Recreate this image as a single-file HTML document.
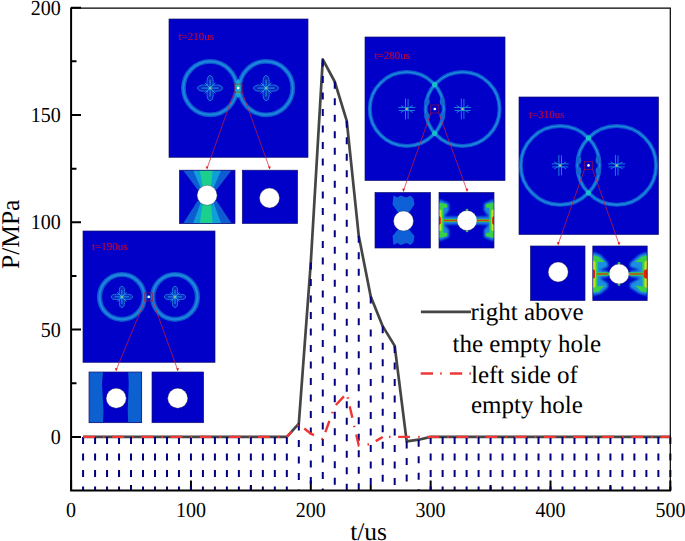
<!DOCTYPE html><html><head><meta charset="utf-8"><style>
html,body{margin:0;padding:0;background:#fff;width:685px;height:541px;overflow:hidden}
svg{display:block}
text{font-family:"Liberation Serif",serif;fill:#000;text-rendering:geometricPrecision}
</style></head><body>
<svg width="685" height="541" viewBox="0 0 685 541">
<defs><filter id="bl" x="-20%" y="-20%" width="140%" height="140%"><feGaussianBlur stdDeviation="0.75"/></filter><filter id="bl2" x="-20%" y="-20%" width="140%" height="140%"><feGaussianBlur stdDeviation="1.2"/></filter></defs>
<rect x="169" y="19" width="139" height="138.3" fill="#0000c8" stroke="#141470" stroke-width="0.7"/>
<g>
<circle cx="210.1" cy="88.1" r="26.7" fill="none" stroke="#0c58d0" stroke-width="4.8" filter="url(#bl)"/><circle cx="210.1" cy="88.1" r="26.7" fill="none" stroke="#1a86dc" stroke-width="2.1" filter="url(#bl)"/>
<circle cx="266.1" cy="88.1" r="26.7" fill="none" stroke="#0c58d0" stroke-width="4.8" filter="url(#bl)"/><circle cx="266.1" cy="88.1" r="26.7" fill="none" stroke="#1a86dc" stroke-width="2.1" filter="url(#bl)"/>
<g filter="url(#bl)"><ellipse cx="238.2" cy="88.5" rx="2.6" ry="9.5" fill="#16a6d6"/><ellipse cx="238.2" cy="85.3" rx="1.8" ry="1.4" fill="#22c890"/><ellipse cx="238.2" cy="92.3" rx="1.8" ry="1.6" fill="#22c890"/></g>
<g fill="#0828c8" stroke="#1a78d8" stroke-width="1" filter="url(#bl)"><ellipse cx="210.1" cy="81.49175" rx="3.1239000000000003" ry="6.0075"/><ellipse cx="210.1" cy="94.70824999999999" rx="3.1239000000000003" ry="6.0075"/><ellipse cx="203.49175" cy="88.1" rx="6.0075" ry="3.1239000000000003"/><ellipse cx="216.70825" cy="88.1" rx="6.0075" ry="3.1239000000000003"/></g><g stroke="#1e98e0" stroke-width="1" fill="none" filter="url(#bl)"><path d="M201.6895,88.1H218.51049999999998M210.1,79.6895V96.5105M204.69325,82.69324999999999L215.50674999999998,93.50675M204.69325,93.50675L215.50674999999998,82.69324999999999"/></g><circle cx="210.1" cy="88.1" r="1.5" fill="#20c0c0" filter="url(#bl)"/><circle cx="210.1" cy="88.1" r="0.9" fill="#c0b080"/>
<g fill="#0828c8" stroke="#1a78d8" stroke-width="1" filter="url(#bl)"><ellipse cx="266.1" cy="81.49175" rx="3.1239000000000003" ry="6.0075"/><ellipse cx="266.1" cy="94.70824999999999" rx="3.1239000000000003" ry="6.0075"/><ellipse cx="259.49175" cy="88.1" rx="6.0075" ry="3.1239000000000003"/><ellipse cx="272.70825" cy="88.1" rx="6.0075" ry="3.1239000000000003"/></g><g stroke="#1e98e0" stroke-width="1" fill="none" filter="url(#bl)"><path d="M257.6895,88.1H274.51050000000004M266.1,79.6895V96.5105M260.69325000000003,82.69324999999999L271.50675,93.50675M260.69325000000003,93.50675L271.50675,82.69324999999999"/></g><circle cx="266.1" cy="88.1" r="1.5" fill="#20c0c0" filter="url(#bl)"/><circle cx="266.1" cy="88.1" r="0.9" fill="#c0b080"/>
</g>
<text x="178.5" y="40" style="font-size:11px;fill:#c8003a;stroke:#c8003a;stroke-width:0.1" filter="url(#bl)">t=210us</text>
<circle cx="238.2" cy="88.1" r="1.3" fill="#fff" filter="url(#bl)"/>
<rect x="234.2" y="84.1" width="8" height="8" fill="none" stroke="#a01038" stroke-width="0.6"/>
<rect x="179.4" y="170.2" width="55.599999999999994" height="53.400000000000006" fill="#0000c8"/>
<clipPath id="c1"><rect x="179.4" y="170.2" width="55.599999999999994" height="53.400000000000006"/></clipPath>
<g clip-path="url(#c1)"><g filter="url(#bl)"><path d="M183.1,170.2L231.6,170.2L216.6,189.8L197.6,189.8Z" fill="#0a5cd2"/><path d="M183.1,223.6L231.6,223.6L216.6,200.8L197.6,200.8Z" fill="#0a5cd2"/><path d="M193.1,170.2L221.1,170.2L213.6,187.8L200.6,187.8Z" fill="#0fa0d6"/><path d="M193.1,223.6L221.1,223.6L213.6,202.8L200.6,202.8Z" fill="#0fa0d6"/><path d="M199.79999999999998,170.2L212.6,170.2L211.1,186.3L202.6,186.3Z" fill="#1ccf8c"/><path d="M199.79999999999998,223.6L212.6,223.6L211.1,204.3L202.6,204.3Z" fill="#1ccf8c"/></g></g>
<circle cx="207.1" cy="195.3" r="10" fill="#fff" stroke="#333" stroke-width="0.35"/>
<path d="M234.2,92.1L207.1,168.2" stroke="#d81830" stroke-width="0.7" fill="none"/>
<path d="M205.7,166.39999999999998L207.1,169.6L208.5,166.39999999999998Z" fill="#e81818"/>
<rect x="179.4" y="170.2" width="55.599999999999994" height="53.400000000000006" fill="none" stroke="#141470" stroke-width="0.7"/>
<rect x="242.3" y="170.2" width="55.30000000000001" height="53.30000000000001" fill="#0000c8"/>
<clipPath id="c2"><rect x="242.3" y="170.2" width="55.30000000000001" height="53.30000000000001"/></clipPath>
<g clip-path="url(#c2)"></g>
<circle cx="269.5" cy="198" r="10" fill="#fff" stroke="#333" stroke-width="0.35"/>
<path d="M242.2,92.1L269.5,168.2" stroke="#d81830" stroke-width="0.7" fill="none"/>
<path d="M268.1,166.39999999999998L269.5,169.6L270.9,166.39999999999998Z" fill="#e81818"/>
<rect x="242.3" y="170.2" width="55.30000000000001" height="53.30000000000001" fill="none" stroke="#141470" stroke-width="0.7"/>
<rect x="365" y="37" width="140" height="143.5" fill="#0000c8" stroke="#141470" stroke-width="0.7"/>
<g>
<circle cx="406.8" cy="109" r="37" fill="none" stroke="#0c58d0" stroke-width="4.0" filter="url(#bl)"/><circle cx="406.8" cy="109" r="37" fill="none" stroke="#1a86dc" stroke-width="1.7" filter="url(#bl)"/>
<circle cx="462.6" cy="109" r="37" fill="none" stroke="#0c58d0" stroke-width="4.0" filter="url(#bl)"/><circle cx="462.6" cy="109" r="37" fill="none" stroke="#1a86dc" stroke-width="1.7" filter="url(#bl)"/>
<g fill="#18c0c8" filter="url(#bl)"><circle cx="434.70000000000005" cy="84.69794247393855" r="2.6"/><circle cx="434.70000000000005" cy="133.30205752606145" r="2.6"/></g><g fill="#1266d0" filter="url(#bl)"><ellipse cx="427.1" cy="101.5" rx="2.5" ry="4"/><ellipse cx="442.3" cy="101.5" rx="2.5" ry="4"/><ellipse cx="427.1" cy="116.5" rx="2.5" ry="4"/><ellipse cx="442.3" cy="116.5" rx="2.5" ry="4"/></g>
<g stroke="#1a7ed8" stroke-width="1" fill="none" filter="url(#bl)"><path d="M405.5,98.5V119.5M408.1,99V119M398.3,107.5H415.3M398.8,110.5H414.8M406.8,109L400.8,105.5M406.8,109L400.8,112.5M406.8,109L412.8,105.5M406.8,109L412.8,112.5"/></g><circle cx="406.8" cy="109" r="1.5" fill="#20c0c0" filter="url(#bl)"/><circle cx="406.8" cy="109" r="0.9" fill="#c0b080"/>
<g stroke="#1a7ed8" stroke-width="1" fill="none" filter="url(#bl)"><path d="M461.3,98.5V119.5M463.90000000000003,99V119M454.1,107.5H471.1M454.6,110.5H470.6M462.6,109L456.6,105.5M462.6,109L456.6,112.5M462.6,109L468.6,105.5M462.6,109L468.6,112.5"/></g><circle cx="462.6" cy="109" r="1.5" fill="#20c0c0" filter="url(#bl)"/><circle cx="462.6" cy="109" r="0.9" fill="#c0b080"/>
</g>
<text x="374.5" y="58.9" style="font-size:11px;fill:#c8003a;stroke:#c8003a;stroke-width:0.1" filter="url(#bl)">t=280us</text>
<circle cx="434.8" cy="109" r="1.3" fill="#fff" filter="url(#bl)"/>
<rect x="430.8" y="105" width="8" height="8" fill="none" stroke="#a01038" stroke-width="0.6"/>
<rect x="375" y="192.5" width="55.5" height="55.5" fill="#0000c8"/>
<clipPath id="c3"><rect x="375" y="192.5" width="55.5" height="55.5"/></clipPath>
<g clip-path="url(#c3)"><g filter="url(#bl)" fill="#1060d8"><path d="M393.5,195.5L397.5,197.5L400.5,195.5L406.5,197.5L410.5,195.5L413.5,198.5L414.5,204.5L408.5,213L398.5,213L392.5,204.5Z"/><path d="M393.5,245L397.5,243L400.5,245L406.5,243L410.5,245L413.5,242L414.5,236L408.5,229L398.5,229L392.5,236Z"/></g></g>
<circle cx="403.5" cy="221" r="10" fill="#fff" stroke="#333" stroke-width="0.35"/>
<path d="M430.8,113L403.5,190.5" stroke="#d81830" stroke-width="0.7" fill="none"/>
<path d="M402.1,188.7L403.5,191.9L404.9,188.7Z" fill="#e81818"/>
<rect x="375" y="192.5" width="55.5" height="55.5" fill="none" stroke="#141470" stroke-width="0.7"/>
<rect x="439" y="192.5" width="55" height="55.5" fill="#0000c8"/>
<clipPath id="c4"><rect x="439" y="192.5" width="55" height="55.5"/></clipPath>
<g clip-path="url(#c4)"><g filter="url(#bl2)"><path d="M439,199.16L449,203.6L449,210.815L444,216.5L479,217.0L479,224.0L444,224.5L449,229.685L449,236.9L439,241.34Z" fill="#1a88e0"/><path d="M494,199.16L484,203.6L484,210.815L489,216.5L455,217.0L455,224.0L489,224.5L484,229.685L484,236.9L494,241.34Z" fill="#1a88e0"/></g><g filter="url(#bl)"><path d="M439,202.49L447,204.155L447,207.485L443.5,208.04L443.5,232.46L447,233.015L447,236.345L439,238.01Z" fill="#38d048"/><path d="M439,209.15L441.6,210.26L441.6,230.24L439,231.35Z" fill="#c8e020"/><path d="M439,216.0L440.8,217.5L440.8,223.5L439,225.0Z" fill="#e02000"/><path d="M443,220.5L476.5,220.5" stroke="#38d048" stroke-width="3.2"/><path d="M444,220.5L478,220.5" stroke="#d04010" stroke-width="1.3"/><path d="M494,202.49L486,204.155L486,207.485L489.5,208.04L489.5,232.46L486,233.015L486,236.345L494,238.01Z" fill="#38d048"/><path d="M494,209.15L491.4,210.26L491.4,230.24L494,231.35Z" fill="#c8e020"/><path d="M494,216.0L492.2,217.5L492.2,223.5L494,225.0Z" fill="#e02000"/><path d="M490,220.5L457.5,220.5" stroke="#38d048" stroke-width="3.2"/><path d="M489,220.5L456,220.5" stroke="#d04010" stroke-width="1.3"/><circle cx="467" cy="210.0" r="1.3" fill="#30c860"/><circle cx="467" cy="231.0" r="1.3" fill="#30c860"/></g></g>
<circle cx="467" cy="220.5" r="10" fill="#fff" stroke="#333" stroke-width="0.35"/>
<path d="M438.8,113L467,190.5" stroke="#d81830" stroke-width="0.7" fill="none"/>
<path d="M465.6,188.7L467,191.9L468.4,188.7Z" fill="#e81818"/>
<rect x="439" y="192.5" width="55" height="55.5" fill="none" stroke="#141470" stroke-width="0.7"/>
<rect x="519" y="97" width="139.5" height="137.5" fill="#0000c8" stroke="#141470" stroke-width="0.7"/>
<g>
<circle cx="560.2" cy="165.4" r="39.4" fill="none" stroke="#0c58d0" stroke-width="4.0" filter="url(#bl)"/><circle cx="560.2" cy="165.4" r="39.4" fill="none" stroke="#1a86dc" stroke-width="1.7" filter="url(#bl)"/>
<circle cx="616.7" cy="165.4" r="39.4" fill="none" stroke="#0c58d0" stroke-width="4.0" filter="url(#bl)"/><circle cx="616.7" cy="165.4" r="39.4" fill="none" stroke="#1a86dc" stroke-width="1.7" filter="url(#bl)"/>
<g fill="#18c0c8" filter="url(#bl)"><circle cx="588.45" cy="137.9355229432636" r="2.6"/><circle cx="588.45" cy="192.8644770567364" r="2.6"/></g><g fill="#1266d0" filter="url(#bl)"><ellipse cx="578.8000000000001" cy="159.9" rx="2.5" ry="4"/><ellipse cx="598.1" cy="159.9" rx="2.5" ry="4"/><ellipse cx="578.8000000000001" cy="170.9" rx="2.5" ry="4"/><ellipse cx="598.1" cy="170.9" rx="2.5" ry="4"/></g>
<g stroke="#1a7ed8" stroke-width="1" fill="none" filter="url(#bl)"><path d="M558.9000000000001,154.9V175.9M561.5,155.4V175.4M551.7,163.9H568.7M552.2,166.9H568.2M560.2,165.4L554.2,161.9M560.2,165.4L554.2,168.9M560.2,165.4L566.2,161.9M560.2,165.4L566.2,168.9"/></g><circle cx="560.2" cy="165.4" r="1.5" fill="#20c0c0" filter="url(#bl)"/><circle cx="560.2" cy="165.4" r="0.9" fill="#c0b080"/>
<g stroke="#1a7ed8" stroke-width="1" fill="none" filter="url(#bl)"><path d="M615.4000000000001,154.9V175.9M618.0,155.4V175.4M608.2,163.9H625.2M608.7,166.9H624.7M616.7,165.4L610.7,161.9M616.7,165.4L610.7,168.9M616.7,165.4L622.7,161.9M616.7,165.4L622.7,168.9"/></g><circle cx="616.7" cy="165.4" r="1.5" fill="#20c0c0" filter="url(#bl)"/><circle cx="616.7" cy="165.4" r="0.9" fill="#c0b080"/>
</g>
<text x="529" y="117.5" style="font-size:11px;fill:#c8003a;stroke:#c8003a;stroke-width:0.1" filter="url(#bl)">t=310us</text>
<circle cx="588.5" cy="165.4" r="1.3" fill="#fff" filter="url(#bl)"/>
<rect x="584.5" y="161.4" width="8" height="8" fill="none" stroke="#a01038" stroke-width="0.6"/>
<rect x="530.5" y="246" width="54.5" height="54.5" fill="#0000c8"/>
<clipPath id="c5"><rect x="530.5" y="246" width="54.5" height="54.5"/></clipPath>
<g clip-path="url(#c5)"></g>
<circle cx="558.2" cy="272" r="10" fill="#fff" stroke="#333" stroke-width="0.35"/>
<path d="M584.5,169.4L558.2,244" stroke="#d81830" stroke-width="0.7" fill="none"/>
<path d="M556.8000000000001,242.2L558.2,245.4L559.6,242.2Z" fill="#e81818"/>
<rect x="530.5" y="246" width="54.5" height="54.5" fill="none" stroke="#141470" stroke-width="0.7"/>
<rect x="592.8" y="246" width="54.40000000000009" height="54.60000000000002" fill="#0000c8"/>
<clipPath id="c6"><rect x="592.8" y="246" width="54.40000000000009" height="54.60000000000002"/></clipPath>
<g clip-path="url(#c6)"><g filter="url(#bl2)"><path d="M592.8,252L600.8,255L608,263L608,267L599.8,270L608,271L608,277L599.8,278L608,283.6L608,287.6L600.8,293.6L592.8,295.6Z" fill="#1a90e0"/><path d="M647.2,252L639.2,255L630,263L630,267L640.2,270L630,271L630,277L640.2,278L630,283.6L630,287.6L639.2,293.6L647.2,295.6Z" fill="#1a90e0"/></g><g filter="url(#bl)"><path d="M592.8,255L598.8,257L604.8,262L597.8,262L597.3,286.6L604.8,285.6L598.8,291.6L592.8,292.6Z" fill="#38d048"/><path d="M592.8,260L595.5999999999999,262L595.5999999999999,286.6L592.8,288.6Z" fill="#c8e020"/><path d="M592.8,269L595.0,270.5L595.0,277.5L592.8,279Z" fill="#e02000"/><path d="M596.8,274L609.5,274" stroke="#38d048" stroke-width="3.4"/><path d="M596.8,274L608,274" stroke="#d04010" stroke-width="1.4"/><path d="M647.2,255L641.2,257L635.2,262L642.2,262L642.7,286.6L635.2,285.6L641.2,291.6L647.2,292.6Z" fill="#38d048"/><path d="M647.2,260L644.4000000000001,262L644.4000000000001,286.6L647.2,288.6Z" fill="#c8e020"/><path d="M647.2,269L643.7,270.5L643.7,277.5L647.2,279Z" fill="#e02000"/><path d="M643.2,274L628.5,274" stroke="#38d048" stroke-width="3.4"/><path d="M643.2,274L630,274" stroke="#d04010" stroke-width="1.4"/><circle cx="619" cy="263.5" r="1.4" fill="#30c860"/><circle cx="619" cy="284.5" r="1.4" fill="#30c860"/></g></g>
<circle cx="619" cy="274" r="10" fill="#fff" stroke="#333" stroke-width="0.35"/>
<path d="M592.5,169.4L619,244" stroke="#d81830" stroke-width="0.7" fill="none"/>
<path d="M617.6,242.2L619,245.4L620.4,242.2Z" fill="#e81818"/>
<rect x="592.8" y="246" width="54.40000000000009" height="54.60000000000002" fill="none" stroke="#141470" stroke-width="0.7"/>
<rect x="83" y="231" width="132" height="131.3" fill="#0000c8" stroke="#141470" stroke-width="0.7"/>
<g>
<circle cx="121.9" cy="296.9" r="22.4" fill="none" stroke="#0c58d0" stroke-width="5.199999999999999" filter="url(#bl)"/><circle cx="121.9" cy="296.9" r="22.4" fill="none" stroke="#1a86dc" stroke-width="2.3" filter="url(#bl)"/>
<circle cx="175" cy="296.9" r="22.4" fill="none" stroke="#0c58d0" stroke-width="5.199999999999999" filter="url(#bl)"/><circle cx="175" cy="296.9" r="22.4" fill="none" stroke="#1a86dc" stroke-width="2.3" filter="url(#bl)"/>

<g fill="#0828c8" stroke="#1a78d8" stroke-width="1" filter="url(#bl)"><ellipse cx="121.9" cy="291.356" rx="2.6208" ry="5.04"/><ellipse cx="121.9" cy="302.44399999999996" rx="2.6208" ry="5.04"/><ellipse cx="116.35600000000001" cy="296.9" rx="5.04" ry="2.6208"/><ellipse cx="127.444" cy="296.9" rx="5.04" ry="2.6208"/></g><g stroke="#1e98e0" stroke-width="1" fill="none" filter="url(#bl)"><path d="M114.84400000000001,296.9H128.95600000000002M121.9,289.844V303.95599999999996M117.364,292.364L126.436,301.436M117.364,301.436L126.436,292.364"/></g><circle cx="121.9" cy="296.9" r="1.5" fill="#20c0c0" filter="url(#bl)"/><circle cx="121.9" cy="296.9" r="0.9" fill="#c0b080"/>
<g fill="#0828c8" stroke="#1a78d8" stroke-width="1" filter="url(#bl)"><ellipse cx="175" cy="291.356" rx="2.6208" ry="5.04"/><ellipse cx="175" cy="302.44399999999996" rx="2.6208" ry="5.04"/><ellipse cx="169.456" cy="296.9" rx="5.04" ry="2.6208"/><ellipse cx="180.544" cy="296.9" rx="5.04" ry="2.6208"/></g><g stroke="#1e98e0" stroke-width="1" fill="none" filter="url(#bl)"><path d="M167.944,296.9H182.056M175,289.844V303.95599999999996M170.464,292.364L179.536,301.436M170.464,301.436L179.536,292.364"/></g><circle cx="175" cy="296.9" r="1.5" fill="#20c0c0" filter="url(#bl)"/><circle cx="175" cy="296.9" r="0.9" fill="#c0b080"/>
</g>
<text x="92" y="250" style="font-size:11px;fill:#c8003a;stroke:#c8003a;stroke-width:0.1" filter="url(#bl)">t=190us</text>
<circle cx="148.7" cy="296.9" r="1.3" fill="#fff" filter="url(#bl)"/>
<rect x="144.7" y="292.9" width="8" height="8" fill="none" stroke="#a01038" stroke-width="0.6"/>
<rect x="89" y="372" width="52.69999999999999" height="50.69999999999999" fill="#0000c8"/>
<clipPath id="c7"><rect x="89" y="372" width="52.69999999999999" height="50.69999999999999"/></clipPath>
<g clip-path="url(#c7)"><g filter="url(#bl)"><path d="M89,372H103L102,384L103.5,410.7L103,422.7H89Z" fill="#0a60d0"/><path d="M141.7,372H128.2L128.7,384L127.69999999999999,410.7L128.2,422.7H141.7Z" fill="#0a60d0"/></g></g>
<circle cx="116.2" cy="398.2" r="10" fill="#fff" stroke="#333" stroke-width="0.35"/>
<path d="M144.7,300.9L116.2,370" stroke="#d81830" stroke-width="0.7" fill="none"/>
<path d="M114.8,368.2L116.2,371.4L117.60000000000001,368.2Z" fill="#e81818"/>
<rect x="89" y="372" width="52.69999999999999" height="50.69999999999999" fill="none" stroke="#141470" stroke-width="0.7"/>
<rect x="152" y="372" width="51.599999999999994" height="50.69999999999999" fill="#0000c8"/>
<clipPath id="c8"><rect x="152" y="372" width="51.599999999999994" height="50.69999999999999"/></clipPath>
<g clip-path="url(#c8)"></g>
<circle cx="177.7" cy="398.2" r="10" fill="#fff" stroke="#333" stroke-width="0.35"/>
<path d="M152.7,300.9L177.7,370" stroke="#d81830" stroke-width="0.7" fill="none"/>
<path d="M176.29999999999998,368.2L177.7,371.4L179.1,368.2Z" fill="#e81818"/>
<rect x="152" y="372" width="51.599999999999994" height="50.69999999999999" fill="none" stroke="#141470" stroke-width="0.7"/>
<path d="M71,436.90h10M71,329.60h10M71,222.30h10M71,115.00h10M71,7.70h10M71,383.25h5.5M71,275.95h5.5M71,168.65h5.5M71,61.35h5.5M71.10,490.54999999999995v-10M190.95,490.54999999999995v-10M310.80,490.54999999999995v-10M430.65,490.54999999999995v-10M550.50,490.54999999999995v-10M670.35,490.54999999999995v-10M131.02,490.54999999999995v-5.5M250.87,490.54999999999995v-5.5M370.73,490.54999999999995v-5.5M490.57,490.54999999999995v-5.5M610.42,490.54999999999995v-5.5" stroke="#000" stroke-width="2" fill="none"/>
<polyline points="83.08,436.90 95.07,436.90 107.05,436.90 119.04,436.90 131.02,436.90 143.01,436.90 155.00,436.90 166.98,436.90 178.96,436.90 190.95,436.90 202.93,436.90 214.92,436.90 226.90,436.90 238.89,436.90 250.87,436.90 262.86,436.90 274.84,436.90 286.83,436.90 298.81,423.59 310.80,262.43 322.78,59.42 334.77,81.74 346.75,120.79 358.74,235.82 370.73,296.55 382.71,326.17 394.69,345.91 406.68,441.41 418.66,439.69 430.65,436.90 442.63,436.90 454.62,436.90 466.60,436.90 478.59,436.90 490.57,436.90 502.56,436.90 514.54,436.90 526.53,436.90 538.51,436.90 550.50,436.90 562.48,436.90 574.47,436.90 586.45,436.90 598.44,436.90 610.42,436.90 622.41,436.90 634.39,436.90 646.38,436.90 658.37,436.90 670.35,436.90" fill="none" stroke="#454545" stroke-width="2.7" stroke-linejoin="round"/>
<path d="M83.08,436.90V490.55M95.07,436.90V490.55M107.05,436.90V490.55M119.04,436.90V490.55M131.02,436.90V490.55M143.01,436.90V490.55M155.00,436.90V490.55M166.98,436.90V490.55M178.96,436.90V490.55M190.95,436.90V490.55M202.93,436.90V490.55M214.92,436.90V490.55M226.90,436.90V490.55M238.89,436.90V490.55M250.87,436.90V490.55M262.86,436.90V490.55M274.84,436.90V490.55M286.83,436.90V490.55M298.81,423.59V490.55M310.80,262.43V490.55M322.78,59.42V490.55M334.77,81.74V490.55M346.75,120.79V490.55M358.74,235.82V490.55M370.73,296.55V490.55M382.71,326.17V490.55M394.69,345.91V490.55M406.68,441.41V490.55M418.66,439.69V490.55M430.65,436.90V490.55M442.63,436.90V490.55M454.62,436.90V490.55M466.60,436.90V490.55M478.59,436.90V490.55M490.57,436.90V490.55M502.56,436.90V490.55M514.54,436.90V490.55M526.53,436.90V490.55M538.51,436.90V490.55M550.50,436.90V490.55M562.48,436.90V490.55M574.47,436.90V490.55M586.45,436.90V490.55M598.44,436.90V490.55M610.42,436.90V490.55M622.41,436.90V490.55M634.39,436.90V490.55M646.38,436.90V490.55M658.37,436.90V490.55M670.35,436.90V490.55" stroke="#000080" stroke-width="2" stroke-dasharray="7 9.5" fill="none"/>
<polyline points="83.08,436.90 95.07,436.90 107.05,436.90 119.04,436.90 131.02,436.90 143.01,436.90 155.00,436.90 166.98,436.90 178.96,436.90 190.95,436.90 202.93,436.90 214.92,436.90 226.90,436.90 238.89,436.90 250.87,436.90 262.86,436.90 274.84,436.90 286.83,436.90" fill="none" stroke="#f03535" stroke-width="2.4" stroke-dasharray="11.8 8.2 1.5 7.65"/>
<polyline points="286.83,436.90 298.81,424.02 310.80,433.68 322.78,439.26 334.77,406.21 346.75,393.34 358.74,445.48 370.73,444.20 382.71,436.90" fill="none" stroke="#f03535" stroke-width="2.4" stroke-dasharray="11.8 8.2 1.5 7.65" stroke-dashoffset="4.5"/>
<polyline points="382.71,436.90 394.69,436.90 406.68,436.90 418.66,436.90 430.65,436.90 442.63,436.90 454.62,436.90 466.60,436.90 478.59,436.90 490.57,436.90 502.56,436.90 514.54,436.90 526.53,436.90 538.51,436.90 550.50,436.90 562.48,436.90 574.47,436.90 586.45,436.90 598.44,436.90 610.42,436.90 622.41,436.90 634.39,436.90 646.38,436.90 658.37,436.90 670.35,436.90" fill="none" stroke="#f03535" stroke-width="2.4" stroke-dasharray="11.8 8.2 1.5 7.65" stroke-dashoffset="13.7"/>
<path d="M71,8.1H670.3V490" stroke="#000" stroke-width="1.2" fill="none"/>
<path d="M71.1,7.5V490.6H671" stroke="#000" stroke-width="2" fill="none"/>
<text transform="translate(60.8,444.0) scale(1,1.07)" text-anchor="end" style="font-size:20px">0</text>
<text transform="translate(60.8,336.7) scale(1,1.07)" text-anchor="end" style="font-size:20px">50</text>
<text transform="translate(60.8,229.4) scale(1,1.07)" text-anchor="end" style="font-size:20px">100</text>
<text transform="translate(60.8,122.1) scale(1,1.07)" text-anchor="end" style="font-size:20px">150</text>
<text transform="translate(60.8,14.8) scale(1,1.07)" text-anchor="end" style="font-size:20px">200</text>
<text transform="translate(71.1,517.0) scale(1,1.07)" text-anchor="middle" style="font-size:20px">0</text>
<text transform="translate(190.9,517.0) scale(1,1.07)" text-anchor="middle" style="font-size:20px">100</text>
<text transform="translate(310.8,517.0) scale(1,1.07)" text-anchor="middle" style="font-size:20px">200</text>
<text transform="translate(430.6,517.0) scale(1,1.07)" text-anchor="middle" style="font-size:20px">300</text>
<text transform="translate(550.5,517.0) scale(1,1.07)" text-anchor="middle" style="font-size:20px">400</text>
<text transform="translate(670.4,517.0) scale(1,1.07)" text-anchor="middle" style="font-size:20px">500</text>
<text x="368.6" y="539.8" text-anchor="middle" style="font-size:25.5px">t/us</text>
<text transform="translate(18.5,234.3) rotate(-90)" text-anchor="middle" style="font-size:25.5px">P/MPa</text>
<path d="M420.9,311.8H471" stroke="#454545" stroke-width="2.7"/>
<path d="M420.7,373.5H471" stroke="#ee3838" stroke-width="2.7" stroke-dasharray="12.3 7.2 1.5 8.2"/>
<text x="470.5" y="320.3" style="font-size:25px">right above</text>
<text x="452.5" y="351.6" style="font-size:25px">the empty hole</text>
<text x="471" y="382.5" style="font-size:25px">left side of</text>
<text x="471" y="412.5" style="font-size:25px">empty hole</text>
</svg></body></html>
